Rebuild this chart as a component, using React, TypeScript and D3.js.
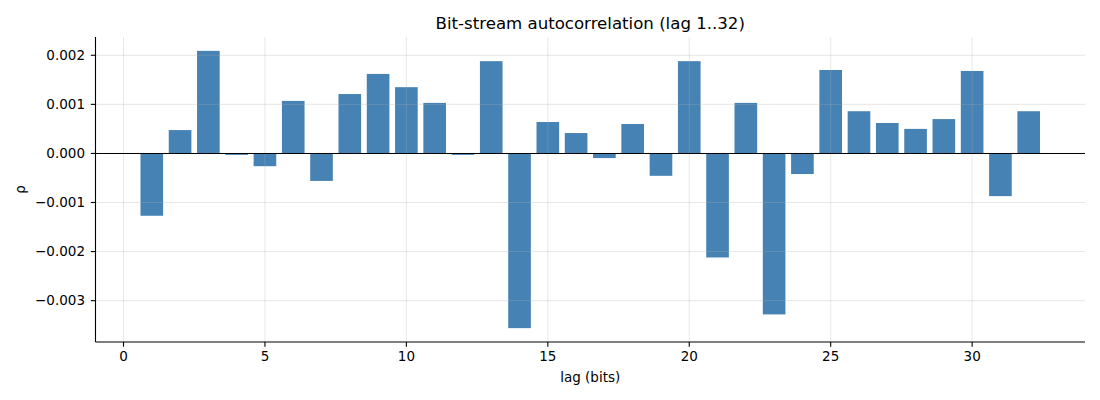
import React from 'react';
import * as d3 from 'd3';

const lags = d3.range(1, 33);
const rho = [
  -0.00127, 0.000476, 0.00209, -0.00003, -0.00026, 0.00107, -0.00056, 0.00121,
  0.00162, 0.00135, 0.00103, -0.00003, 0.00188, -0.00356, 0.00064, 0.000415,
  -0.000095, 0.0006, -0.000456, 0.00188, -0.00212, 0.00103, -0.00328, -0.00042,
  0.0017, 0.00086, 0.00062, 0.0005, 0.0007, 0.00168, -0.00087, 0.00086,
];
const xTicks = [0, 5, 10, 15, 20, 25, 30];
const yTicks = [-0.003, -0.002, -0.001, 0, 0.001, 0.002];

const W = 1100;
const H = 400;
const margin = { left: 95.5, right: 15, top: 37, bottom: 58 };
const FONT = '"DejaVu Sans", sans-serif';

export default function App() {
  const plotW = W - margin.left - margin.right;
  const plotH = H - margin.top - margin.bottom;

  // matplotlib-style 5% margins around bar extents
  const barW = 0.8;
  const xMin = 1 - barW / 2;
  const xMax = 32 + barW / 2;
  const xPad = (xMax - xMin) * 0.05;
  const x = d3.scaleLinear().domain([xMin - xPad, xMax + xPad]).range([0, plotW]);

  const yLo = d3.min(rho) as number;
  const yHi = d3.max(rho) as number;
  const yPad = (yHi - yLo) * 0.05;
  const y = d3.scaleLinear().domain([yLo - yPad, yHi + yPad]).range([plotH, 0]);

  const fmt = (v: number) => v.toFixed(3).replace('-', '\u2212');
  const bw = x(barW) - x(0);

  return (
    <svg width={W} height={H} style={{ position: 'absolute', left: 0, top: 0, background: '#fff' }}>
      <text x={margin.left + plotW / 2} y={29} textAnchor="middle" fontFamily={FONT} fontSize={16.6} fill="#000">
        Bit-stream autocorrelation (lag 1..32)
      </text>
      <g transform={`translate(${margin.left},${margin.top})`}>
        {rho.map((v, i) => (
          <rect
            key={i}
            x={x(lags[i]) - bw / 2}
            y={Math.min(y(v), y(0))}
            width={bw}
            height={Math.abs(y(v) - y(0))}
            fill="#4682b4"
          />
        ))}
        {/* grid, drawn above the bars like matplotlib */}
        {xTicks.map((t) => (
          <line key={'gx' + t} x1={x(t)} x2={x(t)} y1={0} y2={plotH} stroke="#b0b0b0" strokeOpacity={0.3} strokeWidth={1} />
        ))}
        {yTicks.map((t) => (
          <line key={'gy' + t} x1={0} x2={plotW} y1={y(t)} y2={y(t)} stroke="#b0b0b0" strokeOpacity={0.3} strokeWidth={1} />
        ))}
        <line x1={0} x2={plotW} y1={y(0)} y2={y(0)} stroke="#000" strokeWidth={1.1} />

        {/* spines */}
        <line x1={0} x2={0} y1={0} y2={plotH} stroke="#000" strokeWidth={1.1} />
        <line x1={0} x2={plotW} y1={plotH} y2={plotH} stroke="#000" strokeWidth={1.1} />

        {xTicks.map((t) => (
          <g key={'tx' + t} transform={`translate(${x(t)},${plotH})`}>
            <line y1={0} y2={4.7} stroke="#000" strokeWidth={1.1} />
            <text y={19} textAnchor="middle" fontFamily={FONT} fontSize={13.5} fill="#000">{t}</text>
          </g>
        ))}
        {yTicks.map((t) => (
          <g key={'ty' + t} transform={`translate(0,${y(t)})`}>
            <line x1={0} x2={-4.7} stroke="#000" strokeWidth={1.1} />
            <text x={-10.5} dy="0.35em" textAnchor="end" fontFamily={FONT} fontSize={13.5} fill="#000">{fmt(t)}</text>
          </g>
        ))}
      </g>
      <text x={margin.left + plotW / 2} y={382} textAnchor="middle" fontFamily={FONT} fontSize={13.5} fill="#000">
        lag (bits)
      </text>
      <text
        transform={`translate(25,${margin.top + plotH / 2}) rotate(-90)`}
        textAnchor="middle"
        fontFamily={FONT}
        fontSize={13.5}
        fill="#000"
      >
        ρ
      </text>
    </svg>
  );
}
